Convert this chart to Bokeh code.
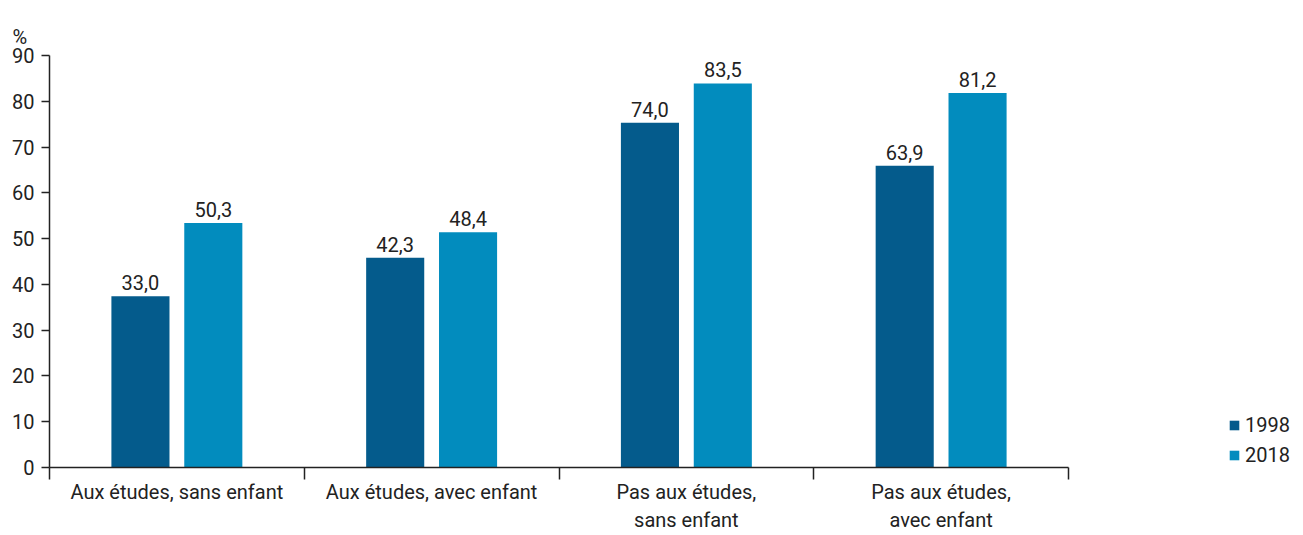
from bokeh.plotting import figure
from bokeh.models import (Range1d, FixedTicker, Legend, LegendItem, Title,
                          ColumnDataSource)
from bokeh.core.properties import value
from bokeh.transform import dodge
from bokeh.embed import file_html
from bokeh.resources import INLINE

# ---- data ----
categories = ["Aux études, sans enfant", "Aux études, avec enfant",
              "Pas aux études,\nsans enfant", "Pas aux études,\navec enfant"]
series = ["1998", "2018"]
bars_1998 = [37.4, 45.8, 75.3, 65.9]
bars_2018 = [53.4, 51.4, 83.9, 81.8]
labels_1998 = ["33,0", "42,3", "74,0", "63,9"]
labels_2018 = ["50,3", "48,4", "83,5", "81,2"]
y_ticks = [0, 10, 20, 30, 40, 50, 60, 70, 80, 90]
y_unit = "%"

# ---- layout / style ----
FONT = "Roboto"
FS = "20px"
TEXT = "#222222"
COLORS = ["#045b8c", "#028cbe"]
CANVAS_W, CANVAS_H = 1296, 535
LEFT, TOP, RIGHT = 49, 55, 2
AXIS_PX = 1019                       # pixel length of the category axis
FRAME_PX = CANVAS_W - LEFT - RIGHT   # frame also hosts the legend on the right
n = len(categories)
x_end = n * FRAME_PX / AXIS_PX

centers = [i + 0.5 for i in range(n)]
src = ColumnDataSource(dict(x=centers, v1=bars_1998, v2=bars_2018,
                            l1=labels_1998, l2=labels_2018))

p = figure(width=CANVAS_W, height=CANVAS_H,
           x_range=Range1d(0, x_end), y_range=Range1d(0, y_ticks[-1]),
           output_backend="svg", toolbar_location=None,
           min_border_left=LEFT, min_border_right=RIGHT, min_border_top=TOP,
           min_border_bottom=0)
p.xgrid.visible = False
p.ygrid.visible = False
p.outline_line_color = None
p.background_fill_color = "white"
p.border_fill_color = "white"

# x axis: labels at centers, ticks at category boundaries
xa = p.xaxis[0]
xa.bounds = (0, n)
xa.ticker = FixedTicker(ticks=centers, minor_ticks=list(range(n + 1)))
xa.major_label_overrides = {c: cat for c, cat in zip(centers, categories)}
xa.major_tick_line_color = None
xa.major_tick_out = 12
xa.major_tick_in = 0
xa.minor_tick_line_color = TEXT
xa.minor_tick_line_width = 1.5
xa.minor_tick_out = 12
xa.minor_tick_in = 0
xa.axis_line_color = TEXT
xa.axis_line_width = 1.5
xa.major_label_standoff = 0
xa.major_label_text_font = FONT
xa.major_label_text_font_size = FS
xa.major_label_text_color = TEXT
xa.major_label_text_line_height = 1.2

ya = p.yaxis[0]
ya.ticker = FixedTicker(ticks=y_ticks, minor_ticks=[])
ya.major_tick_line_color = TEXT
ya.major_tick_line_width = 1.5
ya.major_tick_out = 8
ya.major_tick_in = 0
ya.minor_tick_line_color = None
ya.axis_line_color = TEXT
ya.axis_line_width = 1.5
ya.major_label_standoff = 7
ya.major_label_text_font = FONT
ya.major_label_text_font_size = FS
ya.major_label_text_color = TEXT

W = 0.228
r1 = p.vbar(x=dodge("x", -0.143, range=p.x_range), top="v1", width=W, bottom=0,
            source=src, fill_color=COLORS[0], line_color=None)
r2 = p.vbar(x=dodge("x", 0.143, range=p.x_range), top="v2", width=W, bottom=0,
            source=src, fill_color=COLORS[1], line_color=None)

for key, vkey, off in (("l1", "v1", -0.143), ("l2", "v2", 0.143)):
    p.text(x=dodge("x", off, range=p.x_range), y=vkey,
           text=key, source=src, text_align="center", text_baseline="bottom",
           y_offset=-6, text_font=value(FONT), text_font_size=FS, text_color=TEXT)

# unit label at the top left, above the tick labels
p.add_layout(Title(text=y_unit, align="left", offset=-37, vertical_align="top",
                   standoff=10, text_font=FONT, text_font_size=FS,
                   text_font_style="normal", text_color=TEXT), "above")

legend = Legend(items=[LegendItem(label=series[0], renderers=[r1]),
                       LegendItem(label=series[1], renderers=[r2])],
                location=(1179, 0), orientation="vertical",
                glyph_width=12, glyph_height=12, label_standoff=5,
                spacing=6, padding=0, margin=0,
                border_line_color=None, background_fill_alpha=0,
                label_text_font=FONT, label_text_font_size=FS,
                label_text_color=TEXT)
p.add_layout(legend)

open("out.html", "w").write(file_html(p, INLINE))
